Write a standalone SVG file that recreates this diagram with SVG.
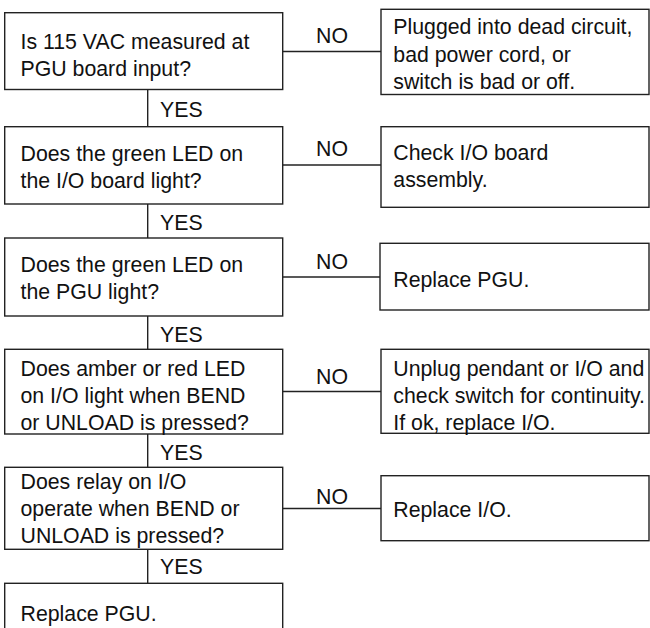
<svg xmlns="http://www.w3.org/2000/svg" width="650" height="628" viewBox="0 0 650 628">
<style>
.box{fill:#fff;stroke:#222;stroke-width:1.4}
.ln{stroke:#222;stroke-width:1.4;fill:none}
text{font-family:"Liberation Sans",Arial,Helvetica,sans-serif;font-size:21.3px;fill:#111}
</style>
<rect width="650" height="628" fill="#fff"/>
<g id="connectors">
<line class="ln" x1="283" y1="51.5" x2="381" y2="51.5"/>
<line class="ln" x1="283" y1="165" x2="381" y2="165"/>
<line class="ln" x1="283" y1="277" x2="380" y2="277"/>
<line class="ln" x1="283" y1="391.5" x2="381" y2="391.5"/>
<line class="ln" x1="283" y1="508.5" x2="381" y2="508.5"/>
<line class="ln" x1="147.7" y1="89.5" x2="147.7" y2="126.7"/>
<line class="ln" x1="147.7" y1="204" x2="147.7" y2="238"/>
<line class="ln" x1="147.7" y1="316" x2="147.7" y2="349.3"/>
<line class="ln" x1="147.7" y1="434" x2="147.7" y2="467.3"/>
<line class="ln" x1="147.7" y1="549.3" x2="147.7" y2="583.3"/>
<text x="316" y="43.3">NO</text>
<text x="316" y="155.7">NO</text>
<text x="316" y="269">NO</text>
<text x="316" y="384">NO</text>
<text x="316" y="504">NO</text>
<text x="160" y="117">YES</text>
<text x="160" y="230">YES</text>
<text x="160" y="341.5">YES</text>
<text x="160" y="459.5">YES</text>
<text x="160" y="574">YES</text>
</g>
<g id="q1">
<rect class="box" x="4.7" y="12.7" width="278" height="76.8"/>
<text x="20.5" y="48.5">Is 115 VAC measured at</text>
<text x="20.5" y="76">PGU board input?</text>
</g>
<g id="a1">
<rect class="box" x="381" y="9.3" width="268" height="85.2"/>
<text x="393.3" y="34.3">Plugged into dead circuit,</text>
<text x="393.3" y="61.5">bad power cord, or</text>
<text x="393.3" y="88.5">switch is bad or off.</text>
</g>
<g id="q2">
<rect class="box" x="4.7" y="126.7" width="278" height="77.3"/>
<text x="20.5" y="161">Does the green LED on</text>
<text x="20.5" y="188.3">the I/O board light?</text>
</g>
<g id="a2">
<rect class="box" x="381" y="126.7" width="268" height="80.6"/>
<text x="393.3" y="160">Check I/O board</text>
<text x="393.3" y="187">assembly.</text>
</g>
<g id="q3">
<rect class="box" x="4.7" y="238" width="278" height="78"/>
<text x="20.5" y="271.7">Does the green LED on</text>
<text x="20.5" y="299">the PGU light?</text>
</g>
<g id="a3">
<rect class="box" x="380" y="243.3" width="269" height="66.7"/>
<text x="393.3" y="286.5">Replace PGU.</text>
</g>
<g id="q4">
<rect class="box" x="4.7" y="349.3" width="278" height="84.7"/>
<text x="20.5" y="375.5">Does amber or red LED</text>
<text x="20.5" y="402.5">on I/O light when BEND</text>
<text x="20.5" y="429.5">or UNLOAD is pressed?</text>
</g>
<g id="a4">
<rect class="box" x="381" y="349.3" width="268" height="84"/>
<text x="393.3" y="375.5">Unplug pendant or I/O and</text>
<text x="393.3" y="402.5">check switch for continuity.</text>
<text x="393.3" y="429.5">If ok, replace I/O.</text>
</g>
<g id="q5">
<rect class="box" x="4.7" y="467.3" width="278" height="82"/>
<text x="20.5" y="488.5">Does relay on I/O</text>
<text x="20.5" y="515.5">operate when BEND or</text>
<text x="20.5" y="542.5">UNLOAD is pressed?</text>
</g>
<g id="a5">
<rect class="box" x="381" y="475.7" width="268" height="65"/>
<text x="393.3" y="516.5">Replace I/O.</text>
</g>
<g id="r6">
<rect class="box" x="4.7" y="583.3" width="278" height="60"/>
<text x="20.5" y="621">Replace PGU.</text>
</g>
</svg>
